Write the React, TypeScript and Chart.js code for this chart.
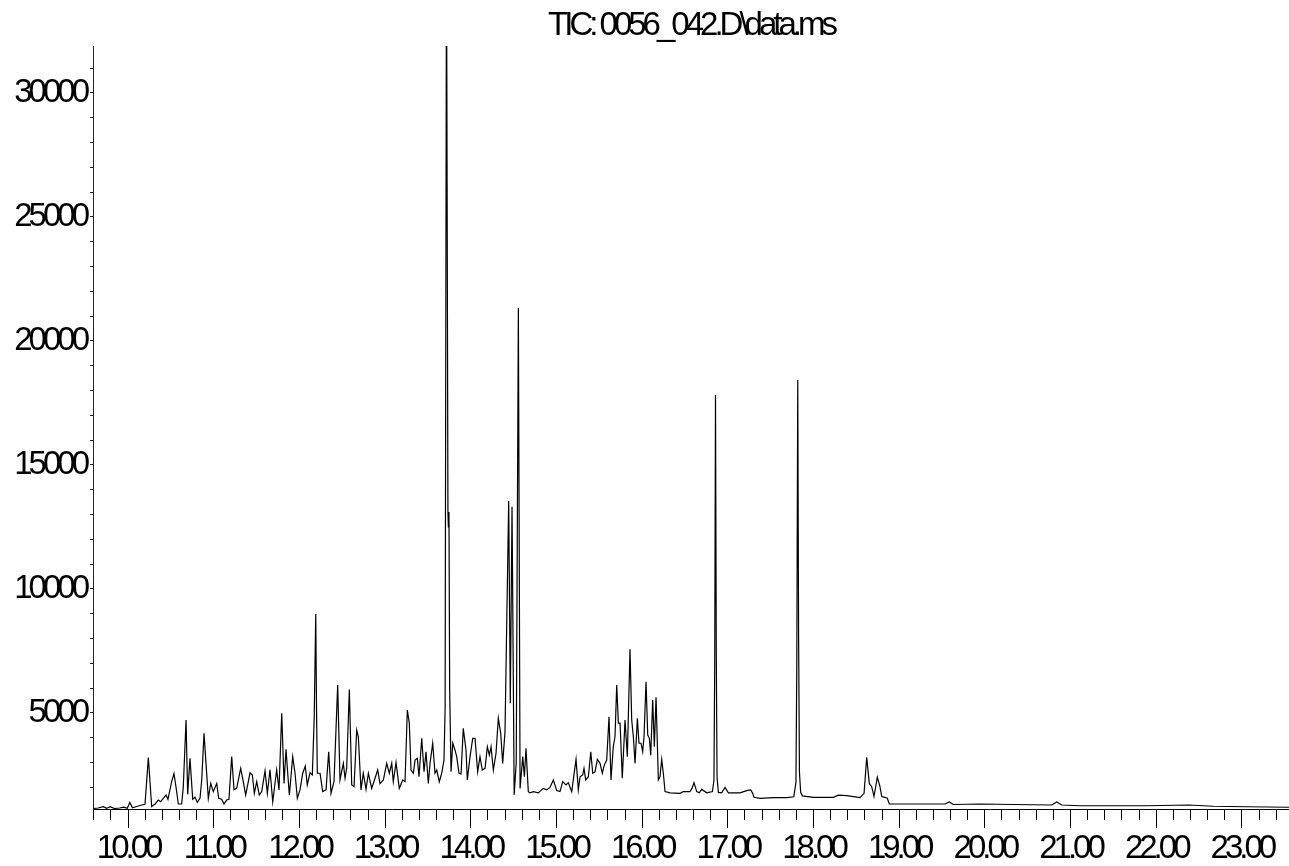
import { useEffect, useRef } from 'react';
import { Chart, registerables } from 'chart.js';

Chart.register(...registerables);

const chartTitle = 'TIC: 0056_042.D\\data.ms';
const xMajorTicks = [10, 11, 12, 13, 14, 15, 16, 17, 18, 19, 20, 21, 22, 23];
const yMajorTicks = [5000, 10000, 15000, 20000, 25000, 30000];
const xRange = [9.59, 23.55];
const yRange = [1129, 31895];
const yMinorStep = 1000;

// [retention time (min), abundance]
const ticEarly: [number, number][] = [
  [9.59, 1150], [9.65, 1170], [9.71, 1220], [9.75, 1160], [9.79, 1220], [9.84, 1150],
  [9.9, 1170], [9.95, 1200], [9.99, 1160], [10.02, 1390], [10.05, 1180], [10.1, 1230],
  [10.16, 1290], [10.197, 1320], [10.236, 3200], [10.275, 1230], [10.314, 1330],
  [10.352, 1490], [10.38, 1420], [10.41, 1560], [10.442, 1690], [10.465, 1520],
  [10.508, 2230], [10.535, 2560], [10.558, 2030], [10.586, 1330], [10.625, 1330],
  [10.644, 2030], [10.676, 4720], [10.695, 1720], [10.722, 3170], [10.754, 1520],
  [10.78, 1600], [10.808, 1400], [10.839, 1560], [10.859, 2300], [10.886, 4180],
  [10.909, 2970], [10.936, 1560], [10.964, 2160], [10.994, 1830], [11.034, 2160],
  [11.057, 1560], [11.092, 1520], [11.119, 1330], [11.15, 1490], [11.177, 1520],
];

const ticMid1: [number, number][] = [
  [11.209, 3240], [11.236, 1900], [11.267, 1960], [11.314, 2770], [11.344, 2230],
  [11.372, 1690], [11.423, 2590], [11.45, 2500], [11.473, 1760], [11.501, 2230],
  [11.531, 1690], [11.559, 1830], [11.598, 2670], [11.625, 1760], [11.656, 2710],
  [11.688, 1420], [11.734, 2710], [11.761, 1900], [11.793, 4990], [11.82, 2160],
  [11.843, 3540], [11.87, 2230], [11.882, 1690], [11.921, 3240], [11.948, 2570],
  [11.975, 1560], [12.006, 1900], [12.038, 2570], [12.068, 2860], [12.091, 2100],
  [12.123, 2590], [12.15, 2500], [12.172, 4800], [12.19, 8990], [12.199, 5200],
  [12.208, 2570], [12.24, 2570], [12.271, 1830], [12.31, 1900], [12.341, 3440],
  [12.368, 1760], [12.403, 2230], [12.446, 6130], [12.473, 2300], [12.512, 2970],
  [12.532, 2370], [12.551, 2770], [12.582, 5950], [12.61, 2100], [12.637, 2030],
  [12.668, 4310], [12.687, 4050], [12.718, 1900], [12.745, 2570], [12.777, 1920],
  [12.804, 2570], [12.843, 1960], [12.882, 2370], [12.913, 2710], [12.94, 2150],
];

const ticMid2: [number, number][] = [
  [12.979, 2300], [13.018, 2970], [13.049, 2570], [13.077, 2970], [13.095, 2230],
  [13.127, 3000], [13.165, 1960], [13.205, 2300], [13.232, 2230], [13.259, 5120],
  [13.282, 4590], [13.302, 2700], [13.329, 2570], [13.349, 3100], [13.376, 3170],
  [13.395, 2430], [13.427, 3980], [13.454, 2630], [13.477, 3440], [13.504, 2160],
  [13.524, 2970], [13.555, 3780], [13.582, 2570], [13.602, 2700], [13.632, 2230],
  [13.66, 2570], [13.687, 3100], [13.7, 5200], [13.716, 36000], [13.733, 13100],
  [13.738, 12500], [13.745, 13100], [13.753, 6000], [13.769, 2630], [13.789, 3780],
  [13.816, 3500], [13.835, 3240], [13.862, 2570], [13.886, 2540], [13.912, 4380],
  [13.944, 3500], [13.959, 2300], [13.991, 3240], [14.022, 3980], [14.049, 3980],
  [14.08, 2630], [14.107, 3240], [14.134, 2700], [14.166, 2770], [14.193, 3640],
  [14.216, 3300], [14.236, 3640], [14.263, 2700], [14.294, 3370], [14.321, 4790],
  [14.349, 4180], [14.372, 2970], [14.399, 4250], [14.442, 13550], [14.461, 5390],
  [14.481, 13320], [14.506, 1700], [14.53, 3000], [14.555, 21330], [14.575, 1960],
  [14.606, 3240], [14.625, 2430], [14.644, 3580], [14.671, 1830],
];

const ticLate1: [number, number][] = [
  [14.691, 1780], [14.73, 1830], [14.788, 1780], [14.846, 1960], [14.886, 1900],
  [14.924, 2000], [14.963, 2300], [15.003, 1870], [15.041, 1830], [15.073, 2230],
  [15.111, 2100], [15.138, 2190], [15.178, 1830], [15.228, 3130], [15.255, 1900],
  [15.275, 2430], [15.306, 2500], [15.321, 2770], [15.341, 2300], [15.372, 2430],
  [15.4, 3440], [15.423, 2570], [15.45, 2630], [15.477, 3130], [15.508, 2970],
  [15.535, 2570], [15.558, 2900], [15.586, 3100], [15.613, 4850], [15.636, 2300],
  [15.663, 3640], [15.683, 4050], [15.703, 6130], [15.722, 4590], [15.742, 4590],
  [15.768, 2370], [15.8, 4720], [15.827, 3240], [15.858, 7570], [15.878, 4720],
  [15.897, 4050], [15.917, 2970], [15.944, 4790], [15.963, 3780], [15.987, 3780],
  [16.006, 3440], [16.022, 4050], [16.045, 6260], [16.065, 4110], [16.084, 3980],
  [16.1, 3300], [16.123, 5520], [16.142, 3640], [16.162, 5630], [16.189, 2300],
  [16.208, 2430], [16.228, 3130], [16.247, 2570], [16.267, 1830], [16.325, 1780],
  [16.442, 1760],
];

const ticLate2: [number, number][] = [
  [16.48, 1830], [16.558, 1830], [16.582, 1960], [16.605, 2190], [16.637, 1830],
  [16.667, 1780], [16.695, 1920], [16.754, 1780], [16.82, 1830], [16.838, 2300],
  [16.847, 7000], [16.856, 17820], [16.865, 7500], [16.874, 2400], [16.89, 1800],
  [16.928, 1780], [16.967, 2000], [17.006, 1780], [17.142, 1780], [17.22, 1870],
  [17.267, 1900], [17.29, 1760], [17.306, 1600], [17.376, 1560], [17.531, 1590],
  [17.687, 1590], [17.77, 1620], [17.795, 2200], [17.805, 7000], [17.816, 18430],
  [17.826, 8000], [17.836, 2600], [17.85, 1800], [17.87, 1660], [17.998, 1600],
  [18.231, 1600], [18.29, 1690], [18.388, 1670], [18.543, 1590], [18.59, 1760],
  [18.621, 3210], [18.651, 2160], [18.679, 2030], [18.706, 1630], [18.745, 2410],
  [18.776, 2030], [18.796, 1630], [18.834, 1600], [18.861, 1560], [18.885, 1330],
  [19.165, 1330], [19.535, 1330], [19.585, 1410], [19.632, 1310], [19.944, 1330],
  [20.333, 1310], [20.781, 1290], [20.839, 1410], [20.897, 1290], [21.111, 1260],
  [21.5, 1260], [21.889, 1260], [22.383, 1290], [22.667, 1240], [23.057, 1220],
  [23.55, 1200],
];

const FONT_FAMILY = "'Liberation Sans', Arial, sans-serif";

const tightText = {
  id: 'tightText',
  beforeLayout(chart: any) {
    chart.ctx.letterSpacing = '-4px';
  },
  beforeDraw(chart: any) {
    chart.ctx.letterSpacing = '-4px';
  },
};

export default function App() {
  const canvasRef = useRef<HTMLCanvasElement | null>(null);

  useEffect(() => {
    const canvas = canvasRef.current;
    if (!canvas) return;
    const points = [...ticEarly, ...ticMid1, ...ticMid2, ...ticLate1, ...ticLate2].map(
      ([x, y]) => ({ x, y })
    );
    const chart = new Chart(canvas, {
      type: 'line',
      data: {
        datasets: [
          {
            label: 'TIC',
            data: points,
            borderColor: '#000',
            borderWidth: 1.2,
            pointRadius: 0,
            tension: 0,
            fill: false,
          },
        ],
      },
      options: {
        animation: false,
        responsive: false,
        events: [],
        layout: { padding: 0 },
        plugins: {
          legend: { display: false },
          tooltip: { enabled: false },
          title: {
            display: true,
            text: chartTitle,
            color: '#000',
            fullSize: false,
            font: { family: FONT_FAMILY, size: 33, weight: 'normal', lineHeight: 1 },
            padding: { top: 9, bottom: 4 },
          },
        },
        scales: {
          x: {
            type: 'linear',
            min: xRange[0],
            max: xRange[1],
            afterFit: (scale: any) => {
              scale.height = 57;
            },
            border: { display: true, color: '#000', width: 1 },
            grid: {
              display: true,
              drawOnChartArea: false,
              drawTicks: true,
              tickLength: 19,
              tickColor: '#000',
              tickWidth: 1,
              tickBorderDash: (ctx: any) => {
                const v = ctx && ctx.tick ? Math.round(ctx.tick.value * 10) / 10 : NaN;
                return xMajorTicks.includes(v) ? [] : [10, 100];
              },
            },
            ticks: {
              stepSize: 0.2,
              autoSkip: false,
              includeBounds: false,
              maxRotation: 0,
              minRotation: 0,
              padding: 4,
              color: '#000',
              font: { family: FONT_FAMILY, size: 33, lineHeight: 1 },
              callback: (value: any) => {
                const v = Math.round(Number(value) * 10) / 10;
                return xMajorTicks.includes(v) ? v.toFixed(2) : '';
              },
            },
          },
          y: {
            type: 'linear',
            min: yRange[0],
            max: yRange[1],
            afterBuildTicks: (scale: any) => {
              const ticks: { value: number }[] = [];
              for (
                let v = Math.ceil(scale.min / yMinorStep) * yMinorStep;
                v <= scale.max;
                v += yMinorStep
              ) {
                ticks.push({ value: v });
              }
              scale.ticks = ticks;
            },
            afterFit: (scale: any) => {
              scale.width = 93;
            },
            border: { display: true, color: '#222', width: 1 },
            grid: {
              display: true,
              drawOnChartArea: false,
              drawTicks: true,
              tickLength: 3,
              tickColor: '#222',
              tickWidth: 1,
            },
            ticks: {
              autoSkip: false,
              padding: 4,
              color: '#000',
              font: { family: FONT_FAMILY, size: 33, lineHeight: 1 },
              callback: (value: any) => {
                const v = Math.round(Number(value));
                return yMajorTicks.includes(v) ? String(v) : '';
              },
            },
          },
        },
      },
      plugins: [tightText],
    } as any);
    return () => {
      chart.destroy();
    };
  }, []);

  return (
    <canvas
      ref={canvasRef}
      width={1289}
      height={866}
      style={{ position: 'fixed', left: 0, top: 0, display: 'block', width: 1289, height: 866 }}
    />
  );
}
